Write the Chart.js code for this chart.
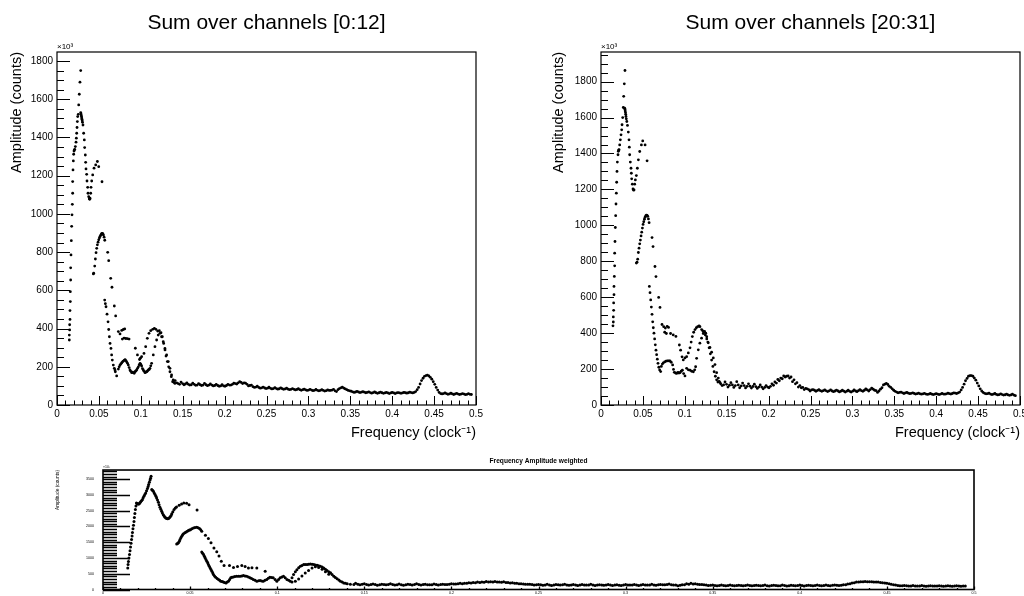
<!DOCTYPE html>
<html>
<head>
<meta charset="utf-8">
<script src="https://cdn.jsdelivr.net/npm/chart.js@4.4.1/dist/chart.umd.min.js"></script>
<style>
  html, body { margin: 0; padding: 0; background: #fff; }
  body { width: 1024px; height: 596px; position: relative; overflow: hidden; }
  canvas { position: absolute; }
  #c1 { left: 0; top: 0; }
  #c2 { left: 512px; top: 0; }
  #c3 { left: 0; top: 440px; }
</style>
</head>
<body>
<canvas id="c1" width="512" height="450"></canvas>
<canvas id="c2" width="530" height="450"></canvas>
<canvas id="c3" width="1024" height="170"></canvas>
<script>
// ---- data: [frequency, amplitude (x10^3)] ----
const freqTicks = [0, 0.05, 0.1, 0.15, 0.2, 0.25, 0.3, 0.35, 0.4, 0.45, 0.5];
const sumTicks = [0, 200, 400, 600, 800, 1000, 1200, 1400, 1600, 1800];
const weightedTicks = [0, 500, 1000, 1500, 2000, 2500, 3000, 3500];

const ch012Low = [
  [0.0147,340],[0.0147,366],[0.0151,393],[0.0151,420],[0.0155,448],[0.0155,494],[0.0159,541],[0.0159,593],[0.0163,654],[0.0163,718],
  [0.0167,785],[0.0171,860],[0.0175,935],[0.0179,995],[0.0183,1050],[0.0187,1108],[0.0187,1169],[0.0191,1230],[0.0195,1277],[0.0199,1312],
  [0.0203,1329],[0.0207,1334],[0.0211,1338],[0.0219,1352],[0.0227,1375],[0.0231,1396],[0.0235,1422],[0.0239,1452],[0.0243,1483],[0.0247,1509],
  [0.0254,1521],[0.0259,1570],[0.0266,1626],[0.0274,1689],[0.0283,1750],
  [0.0283,1530],[0.0286,1524],[0.0289,1517],[0.0292,1510],[0.0295,1502],[0.0298,1495],[0.0301,1487],[0.0304,1479],[0.0310,1465],[0.0318,1422],
  [0.0326,1387],[0.0330,1347],[0.0338,1308],[0.0342,1270],[0.0346,1235],[0.0354,1207],[0.0358,1172],[0.0366,1139],[0.0370,1108],[0.0378,1090],
  [0.0386,1079],[0.0390,1076],[0.0394,1082],[0.0402,1108],[0.0406,1139],[0.0414,1172],[0.0426,1204],[0.0442,1239],[0.0462,1256],[0.0482,1274],
  [0.0498,1247],[0.0537,1168],
  [0.0434,686],[0.0438,690],[0.0450,727],[0.0458,764],[0.0466,797],[0.0474,820],[0.0482,838],[0.0490,852],[0.0498,864],[0.0506,874],
  [0.0514,882],[0.0522,889],[0.0530,895],[0.0538,898],[0.0546,896],[0.0554,890],[0.0562,878],[0.0570,862],[0.0605,799],[0.0617,755],
  [0.0641,663],[0.0656,616],[0.0684,518],[0.0700,466],
  [0.0732,384],[0.0752,372],[0.0772,390],[0.0792,395],[0.0808,398],[0.0780,345],[0.0800,350],[0.0820,348],[0.0840,347],[0.0860,345],
  [0.0935,297],[0.0960,262],[0.0985,238],
  [0.0569,549],[0.0577,530],[0.0585,514],[0.0597,475],[0.0609,435],[0.0617,395],[0.0625,357],[0.0633,322],[0.0644,296],[0.0652,262],
  [0.0660,235],[0.0672,209],[0.0684,192],[0.0696,174],[0.0712,152],
  [0.0692,183],[0.0732,188],[0.0742,200],[0.0752,209],[0.0762,215],[0.0772,220],[0.0782,226],[0.0792,230],[0.0802,234],[0.0812,237],
  [0.0822,232],[0.0832,225],[0.0842,218],[0.0851,209],[0.0861,196],[0.0871,183],[0.0881,176],[0.0891,169],[0.0901,172],[0.0911,169],
  [0.0921,166],[0.0931,174],[0.0941,178],[0.0951,183],[0.0961,192],[0.0971,200],[0.0981,210],[0.0991,218],[0.1000,212],[0.1010,204],
  [0.1020,190],[0.1030,183],[0.1040,176],[0.1050,169],[0.1060,172],[0.1070,174],[0.1080,178],[0.1090,183],[0.1100,186],[0.1109,192],
  [0.1119,205],[0.1129,218],[0.1149,262],[0.1169,305],[0.1189,340],[0.1208,366],[0.1228,375],[0.1248,357],[0.1268,331],[0.1288,296],
  [0.1308,262],[0.1328,227],[0.1348,192],[0.1367,157],[0.1387,131],[0.1407,113],
  [0.0995,245],[0.1010,253],[0.1038,270],[0.1058,305],[0.1078,349],[0.1098,375],[0.1118,389],[0.1142,396],[0.1162,401],[0.1181,396],
  [0.1201,387],[0.1221,389],[0.1241,378],[0.1257,357],[0.1273,322],[0.1289,288],[0.1301,256],[0.1317,227],[0.1333,200],[0.1348,174],
  [0.1364,148],[0.1380,122],[0.1395,118]
];

const ch2031Low = [
  [0.0143,441],[0.0147,462],[0.0147,490],[0.0151,527],[0.0151,568],[0.0155,614],[0.0155,660],[0.0159,716],[0.0163,775],[0.0163,845],
  [0.0167,910],[0.0171,988],[0.0175,1054],[0.0179,1119],[0.0183,1179],[0.0187,1240],[0.0191,1300],[0.0195,1352],[0.0203,1393],[0.0207,1412],
  [0.0211,1418],[0.0215,1422],[0.0223,1448],[0.0231,1476],[0.0239,1504],[0.0247,1532],[0.0251,1560],[0.0259,1600],[0.0266,1656],[0.0271,1718],
  [0.0278,1788],[0.0286,1862],
  [0.0283,1652],[0.0286,1645],[0.0289,1637],[0.0292,1628],[0.0295,1618],[0.0298,1606],[0.0302,1593],[0.0308,1578],[0.0316,1556],[0.0326,1519],
  [0.0334,1476],[0.0338,1435],[0.0342,1393],[0.0350,1352],[0.0358,1318],[0.0362,1290],[0.0366,1259],[0.0374,1229],[0.0382,1203],[0.0390,1196],
  [0.0394,1198],[0.0402,1229],[0.0410,1253],[0.0422,1277],[0.0434,1318],[0.0446,1365],[0.0462,1411],[0.0482,1448],[0.0498,1470],[0.0526,1448],
  [0.0550,1359],
  [0.0422,790],[0.0430,795],[0.0438,812],[0.0446,849],[0.0454,873],[0.0462,897],[0.0470,918],[0.0478,941],[0.0486,962],[0.0494,985],
  [0.0502,1005],[0.0510,1020],[0.0518,1034],[0.0526,1045],[0.0534,1053],[0.0542,1057],[0.0550,1055],[0.0558,1050],[0.0566,1036],[0.0574,1015],
  [0.0609,932],[0.0621,882],[0.0644,771],[0.0656,715],[0.0688,599],[0.0704,543],
  [0.0577,660],[0.0585,625],[0.0593,585],[0.0601,545],[0.0609,505],[0.0617,463],[0.0624,430],[0.0632,400],[0.0640,368],[0.0648,335],
  [0.0656,305],[0.0664,280],[0.0672,255],[0.0680,232],[0.0690,210],[0.0700,195],[0.0712,186],
  [0.0728,448],[0.0748,436],[0.0768,428],[0.0790,438],[0.0806,432],[0.0760,405],[0.0780,398],[0.0830,398],[0.0862,390],[0.0894,382],
  [0.0935,334],[0.0950,305],[0.0967,268],
  [0.0720,215],[0.0732,228],[0.0744,235],[0.0760,240],[0.0776,244],[0.0792,246],[0.0808,246],[0.0823,245],[0.0838,238],[0.0855,223],
  [0.0865,198],[0.0875,182],[0.0890,178],[0.0903,176],[0.0918,182],[0.0930,178],[0.0943,180],[0.0957,188],[0.0971,194],[0.0986,175],
  [0.1002,162],
  [0.0982,251],[0.1002,262],[0.1022,269],[0.1042,290],[0.1062,318],[0.1076,350],[0.1090,381],[0.1106,405],[0.1122,420],[0.1138,430],
  [0.1154,436],[0.1170,440],[0.1181,436],[0.1201,420],[0.1215,412],[0.1229,406],[0.1245,390],[0.1262,368],[0.1280,346],[0.1300,320],
  [0.1320,294],[0.1340,262],[0.1360,225],[0.1380,180],[0.1400,150],[0.1420,125],
  [0.1022,204],[0.1042,196],[0.1062,194],[0.1082,188],[0.1102,185],[0.1118,196],[0.1129,213],[0.1141,260],[0.1161,307],[0.1180,344],
  [0.1200,372],[0.1220,398],[0.1236,410],[0.1250,400],[0.1262,380],[0.1275,350],[0.1290,318],[0.1305,285],[0.1320,250],[0.1335,215],
  [0.1350,185],[0.1365,160],[0.1380,140],[0.1395,128]
];

// high-frequency part, two interleaved sets of bins shared by both channel groups
const tailFreq = [
  0.1410,0.1445,0.1480,0.1515,0.1550,0.1585,0.1620,0.1655,0.1690,0.1725,
  0.1760,0.1795,0.1830,0.1865,0.1900,0.1935,0.1970,0.2005,0.2040,0.2075,
  0.2110,0.2145,0.2180,0.2215,0.2250,0.2285,0.2320,0.2355,0.2390,0.2425,
  0.2460,0.2495,0.2530,0.2565,0.2600,0.2635,0.2670,0.2705,0.2740,0.2775,
  0.2810,0.2845,0.2880,0.2915,0.2950,0.2985,0.3020,0.3055,0.3090,0.3125,
  0.3160,0.3195,0.3230,0.3265,0.3300,0.3335,0.3370,0.3405,0.3440,0.3475,
  0.3510,0.3545,0.3580,0.3615,0.3650,0.3685,0.3720,0.3755,0.3790,0.3825,
  0.3860,0.3895,0.3930,0.3965,0.4000,0.4035,0.4070,0.4105,0.4140,0.4175,
  0.4210,0.4245,0.4280,0.4315,0.4350,0.4385,0.4420,0.4455,0.4490,0.4525,
  0.4560,0.4595,0.4630,0.4665,0.4700,0.4735,0.4770,0.4805,0.4840,0.4875,
  0.4910,0.4945
];
const tailFreq2 = [
  0.1428,0.1463,0.1498,0.1533,0.1568,0.1603,0.1638,0.1673,0.1708,0.1743,
  0.1778,0.1813,0.1848,0.1883,0.1918,0.1953,0.1988,0.2023,0.2058,0.2093,
  0.2128,0.2163,0.2198,0.2233,0.2268,0.2303,0.2338,0.2373,0.2408,0.2443,
  0.2478,0.2513,0.2548,0.2583,0.2618,0.2653,0.2688,0.2723,0.2758,0.2793,
  0.2828,0.2863,0.2898,0.2933,0.2968,0.3003,0.3038,0.3073,0.3108,0.3143,
  0.3178,0.3213,0.3248,0.3283,0.3318,0.3353,0.3388,0.3423,0.3458,0.3493,
  0.3528,0.3563,0.3598,0.3633,0.3668,0.3703,0.3738,0.3773,0.3808,0.3843,
  0.3878,0.3913,0.3948,0.3983,0.4018,0.4053,0.4088,0.4123,0.4158,0.4193,
  0.4228,0.4263,0.4298,0.4333,0.4368,0.4403,0.4438,0.4473,0.4508,0.4543,
  0.4578,0.4613,0.4648,0.4683,0.4718,0.4753,0.4788,0.4823,0.4858,0.4893,
  0.4928
];
const ch012Tail = [
  128,112,120,106,116,104,114,103,112,102,
  113,101,110,100,108,98,106,98,108,104,
  114,110,122,112,114,100,104,92,98,88,
  94,86,93,84,91,83,90,82,88,80,
  86,79,85,77,83,76,82,75,81,74,
  80,73,79,76,82,70,86,94,84,76,
  72,66,71,65,70,64,69,62,68,61,
  67,61,66,60,66,60,65,61,66,62,
  67,63,70,92,128,150,156,145,122,92,
  66,58,63,56,62,55,61,55,60,54,
  59,55
];
const ch012Tail2 = [
  116,108,112,110,108,106,108,104,106,104,
  106,104,104,102,102,100,100,102,104,108,
  112,116,118,116,108,102,96,94,92,90,
  89,88,87,86,86,85,85,84,83,82,
  82,81,80,80,79,78,78,77,77,76,
  76,75,76,78,74,80,90,88,80,74,
  69,68,68,67,67,66,65,65,64,64,
  64,63,63,63,63,63,63,63,64,64,
  65,66,80,110,140,154,152,135,108,78,
  60,60,59,58,58,58,57,57,57,56,
  56
];
const ch2031Tail = [
  132,108,128,100,124,98,130,96,122,95,
  118,94,116,92,112,90,108,96,118,128,
  142,150,162,160,150,130,118,100,96,86,
  90,78,86,76,85,76,84,75,84,74,
  83,73,82,72,82,72,84,74,86,76,
  90,78,94,82,70,88,112,120,104,90,
  76,68,72,64,70,63,68,61,66,60,
  65,59,64,58,63,58,64,60,66,61,
  68,64,72,98,135,160,164,150,122,90,
  70,62,66,58,64,56,62,55,61,54,
  60,52
];
const ch2031Tail2 = [
  118,112,115,110,112,108,112,106,108,104,
  105,103,102,100,100,98,100,104,110,122,
  135,146,156,162,156,140,124,108,98,92,
  86,84,82,81,80,80,79,79,78,78,
  78,77,77,77,76,77,78,80,80,82,
  84,86,88,80,78,96,116,114,98,82,
  72,70,68,67,66,65,64,63,62,62,
  61,61,60,60,60,61,61,62,63,64,
  66,68,84,116,148,163,160,138,106,78,
  65,63,61,60,59,58,58,57,56,56,
  55
];

const weightedLow = [
  [0.0142,683],[0.0144,790],[0.0146,892],[0.0149,1000],[0.0152,1113],[0.0155,1230],[0.0158,1350],[0.0161,1470],[0.0164,1585],[0.0167,1700],
  [0.0169,1810],[0.0172,1925],[0.0175,2040],[0.0178,2160],[0.0180,2280],[0.0183,2410],[0.0186,2540],[0.0189,2650],[0.0192,2745],[0.0196,2725],
  [0.0200,2710],[0.0204,2712],[0.0208,2720],[0.0212,2750],[0.0216,2780],[0.0221,2815],[0.0226,2850],[0.0230,2900],[0.0235,2960],[0.0240,3010],
  [0.0245,3065],[0.0250,3130],[0.0255,3200],[0.0259,3265],[0.0262,3330],[0.0266,3400],[0.0270,3470],[0.0273,3530],[0.0276,3590],
  [0.0280,3170],[0.0284,3145],[0.0289,3115],[0.0294,3065],[0.0299,3010],[0.0304,2960],[0.0308,2905],[0.0313,2840],[0.0318,2770],[0.0322,2690],
  [0.0327,2610],[0.0332,2545],[0.0337,2480],[0.0341,2425],[0.0346,2375],[0.0351,2330],[0.0356,2290],[0.0361,2265],[0.0366,2250],[0.0371,2245],
  [0.0376,2255],[0.0381,2275],[0.0386,2310],[0.0391,2350],[0.0395,2400],[0.0401,2470],[0.0408,2535],[0.0415,2585],[0.0422,2620],[0.0437,2670],
  [0.0451,2715],[0.0464,2745],[0.0480,2735],[0.0494,2690],[0.0540,2520],
  [0.0423,1445],[0.0428,1460],[0.0433,1480],[0.0438,1530],[0.0442,1585],[0.0447,1640],[0.0452,1690],[0.0457,1735],[0.0462,1770],[0.0470,1800],
  [0.0477,1820],[0.0484,1850],[0.0490,1875],[0.0496,1888],[0.0502,1895],[0.0510,1925],[0.0519,1950],[0.0528,1965],[0.0538,1975],[0.0546,1960],
  [0.0554,1935],[0.0561,1895],[0.0567,1850],
  [0.0588,1720],[0.0605,1615],[0.0620,1480],[0.0637,1320],[0.0653,1195],[0.0666,1060],[0.0679,900],[0.0695,760],
  [0.0726,765],[0.0749,700],[0.0772,733],[0.0797,765],[0.0816,733],[0.0835,685],[0.0855,692],[0.0883,683],[0.0931,575],
  [0.0567,1190],[0.0572,1150],[0.0577,1110],[0.0582,1058],[0.0586,1005],[0.0591,952],[0.0596,900],[0.0601,845],[0.0605,790],[0.0610,738],
  [0.0615,685],[0.0620,632],[0.0625,580],[0.0630,527],[0.0634,475],[0.0640,430],[0.0647,390],[0.0655,352],[0.0663,320],[0.0670,290],
  [0.0676,265],[0.0684,250],[0.0691,240],[0.0698,225],[0.0706,210],[0.0713,235],[0.0720,265],[0.0727,320],[0.0733,370],[0.0740,388],
  [0.0748,400],[0.0757,410],[0.0767,420],[0.0777,422],[0.0787,420],[0.0797,430],[0.0806,445],[0.0815,432],[0.0825,420],[0.0835,395],
  [0.0844,370],[0.0853,345],[0.0863,320],[0.0873,290],[0.0883,265],[0.0893,275],[0.0902,285],[0.0911,270],[0.0920,265],[0.0930,290],
  [0.0940,320],[0.0949,355],[0.0958,390],[0.0968,380],[0.0977,370],[0.0988,320],[0.0998,265],[0.1008,320],[0.1017,370],[0.1027,400],
  [0.1036,420],[0.1046,370],[0.1056,320],[0.1066,290],[0.1075,265],
  [0.1085,370],[0.1094,475],[0.1104,560],[0.1113,630],[0.1123,690],[0.1133,735],[0.1142,765],[0.1152,790],[0.1161,795],[0.1171,790],
  [0.1180,800],[0.1190,810],[0.1200,800],[0.1210,790],[0.1219,780],[0.1229,770],[0.1238,755],[0.1248,735],[0.1258,710],[0.1267,685],
  [0.1277,645],[0.1286,600],[0.1296,565],[0.1306,530],[0.1315,475],[0.1325,420],[0.1334,380],[0.1344,340],[0.1354,300],[0.1363,265],
  [0.1373,235],[0.1382,210],[0.1392,195],[0.1402,180],[0.1420,170],[0.1440,160],
  [0.1085,240],[0.1104,260],[0.1123,330],[0.1142,430],[0.1161,520],[0.1180,600],[0.1200,680],[0.1219,720],[0.1238,700],[0.1258,640],
  [0.1277,560],[0.1296,480]
];
const weightedTailFreq = [
  0.1450,0.1475,0.1500,0.1525,0.1550,0.1575,0.1600,0.1625,0.1650,0.1675,
  0.1700,0.1725,0.1750,0.1775,0.1800,0.1825,0.1850,0.1875,0.1900,0.1925,
  0.1950,0.1975,0.2000,0.2025,0.2050,0.2075,0.2100,0.2125,0.2150,0.2175,
  0.2200,0.2225,0.2250,0.2275,0.2300,0.2325,0.2350,0.2375,0.2400,0.2425,
  0.2450,0.2475,0.2500,0.2525,0.2550,0.2575,0.2600,0.2625,0.2650,0.2675,
  0.2700,0.2725,0.2750,0.2775,0.2800,0.2825,0.2850,0.2875,0.2900,0.2925,
  0.2950,0.2975,0.3000,0.3025,0.3050,0.3075,0.3100,0.3125,0.3150,0.3175,
  0.3200,0.3225,0.3250,0.3275,0.3300,0.3325,0.3350,0.3375,0.3400,0.3425,
  0.3450,0.3475,0.3500,0.3525,0.3550,0.3575,0.3600,0.3625,0.3650,0.3675,
  0.3700,0.3725,0.3750,0.3775,0.3800,0.3825,0.3850,0.3875,0.3900,0.3925,
  0.3950,0.3975,0.4000,0.4025,0.4050,0.4075,0.4100,0.4125,0.4150,0.4175,
  0.4200,0.4225,0.4250,0.4275,0.4300,0.4325,0.4350,0.4375,0.4400,0.4425,
  0.4450,0.4475,0.4500,0.4525,0.4550,0.4575,0.4600,0.4625,0.4650,0.4675,
  0.4700,0.4725,0.4750,0.4775,0.4800,0.4825,0.4850,0.4875,0.4900,0.4925,
  0.4950
];
const weightedTailAmp = [
  200,150,185,140,175,135,170,150,180,140,
  175,135,170,145,180,140,165,150,175,145,
  170,160,185,175,200,195,215,220,240,235,
  250,245,255,240,245,225,215,195,180,165,
  170,140,160,135,165,130,160,140,170,135,
  160,130,155,140,165,130,150,135,160,130,
  150,125,155,140,160,130,155,145,165,135,
  160,150,175,140,120,150,185,195,180,160,
  150,125,140,120,145,115,140,120,135,115,
  140,115,135,120,140,110,135,118,140,112,
  135,115,140,112,138,115,140,118,145,120,
  145,125,150,175,210,235,245,250,245,240,
  235,215,195,165,140,120,130,110,125,108,
  125,105,122,108,120,104,118,106,120,105,
  110
];
const weightedTailFreq2 = [
  0.1463,0.1488,0.1513,0.1538,0.1563,0.1588,0.1613,0.1638,0.1663,0.1688,
  0.1713,0.1738,0.1763,0.1788,0.1813,0.1838,0.1863,0.1888,0.1913,0.1938,
  0.1963,0.1988,0.2013,0.2038,0.2063,0.2088,0.2113,0.2138,0.2163,0.2188,
  0.2213,0.2238,0.2263,0.2288,0.2313,0.2338,0.2363,0.2388,0.2413,0.2438,
  0.2463,0.2488,0.2513,0.2538,0.2563,0.2588,0.2613,0.2638,0.2663,0.2688,
  0.2713,0.2738,0.2763,0.2788,0.2813,0.2838,0.2863,0.2888,0.2913,0.2938,
  0.2963,0.2988,0.3013,0.3038,0.3063,0.3088,0.3113,0.3138,0.3163,0.3188,
  0.3213,0.3238,0.3263,0.3288,0.3313,0.3338,0.3363,0.3388,0.3413,0.3438,
  0.3463,0.3488,0.3513,0.3538,0.3563,0.3588,0.3613,0.3638,0.3663,0.3688,
  0.3713,0.3738,0.3763,0.3788,0.3813,0.3838,0.3863,0.3888,0.3913,0.3938,
  0.3963,0.3988,0.4013,0.4038,0.4063,0.4088,0.4113,0.4138,0.4163,0.4188,
  0.4213,0.4238,0.4263,0.4288,0.4313,0.4338,0.4363,0.4388,0.4413,0.4438,
  0.4463,0.4488,0.4513,0.4538,0.4563,0.4588,0.4613,0.4638,0.4663,0.4688,
  0.4713,0.4738,0.4763,0.4788,0.4813,0.4838,0.4863,0.4888,0.4913,0.4938
];
const weightedTailAmp2 = [
  170,165,160,158,155,152,158,160,155,150,
  152,150,155,158,160,155,150,152,156,158,
  162,168,172,180,186,195,205,212,222,230,
  238,240,238,232,225,210,198,186,175,165,
  155,150,148,146,145,146,148,147,146,145,
  144,143,144,145,142,140,141,142,140,139,
  138,139,140,141,142,143,142,144,146,148,
  150,155,152,145,135,150,170,175,168,155,
  140,132,130,128,127,126,128,127,126,125,
  124,125,124,123,122,124,123,122,124,122,
  123,124,125,124,126,125,127,128,130,132,
  135,138,150,185,215,235,242,246,243,238,
  225,205,180,150,128,118,115,114,113,112,
  112,111,112,110,111,110,109,110,108,108
];

Chart.defaults.font.family = '"Liberation Sans", Arial, Helvetica, sans-serif';
Chart.defaults.color = '#000';

// ROOT-like frame with inner tick marks
const rootAxes = {
  id: 'rootAxes',
  afterDatasetsDraw(chart, args, o) {
    const { ctx, chartArea: a, scales: { x, y } } = chart;
    ctx.save();
    ctx.strokeStyle = '#000';
    ctx.lineWidth = o.tickWidth;
    ctx.beginPath();
    for (let i = 0; i * o.xMinor <= x.max + 1e-9; i++) {
      const px = Math.round(x.getPixelForValue(i * o.xMinor)) + 0.5;
      const len = i % o.xEvery === 0 ? o.xMajorLen : o.xMinorLen;
      ctx.moveTo(px, a.bottom); ctx.lineTo(px, a.bottom - len);
    }
    for (let i = 0; i * o.yMinor <= y.max + 1e-9; i++) {
      const py = Math.round(y.getPixelForValue(i * o.yMinor)) + 0.5;
      const len = i % o.yEvery === 0 ? o.yMajorLen : o.yMinorLen;
      ctx.moveTo(a.left, py); ctx.lineTo(a.left + len, py);
    }
    ctx.stroke();
    ctx.lineWidth = o.frameWidth;
    ctx.strokeRect(a.left, a.top, a.right - a.left, a.bottom - a.top);
    ctx.fillStyle = '#000';
    ctx.font = o.expFont;
    ctx.textBaseline = 'bottom';
    ctx.textAlign = 'left';
    ctx.fillText('×10³', a.left, a.top - 1);
    ctx.restore();
  }
};

const fmtFreq = v => String(+v.toFixed(3));
const pts = (pairs) => pairs.map(p => ({ x: p[0], y: p[1] }));
const zipPts = (xs, ys) => xs.map((x, i) => ({ x, y: ys[i] }));
const fixedTicks = list => s => { s.ticks = list.map(value => ({ value })); };

function sumChart(id, title, data, yMax, yWidth, yTitlePad, padRight) {
  return new Chart(document.getElementById(id), {
    type: 'scatter',
    data: { datasets: [{ data, pointRadius: 1.4, pointHoverRadius: 1.4, pointBorderWidth: 0, backgroundColor: '#000' }] },
    options: {
      responsive: false, animation: false, events: [],
      layout: { padding: { left: 0, right: padRight, top: 0, bottom: 0 } },
      plugins: {
        legend: { display: false }, tooltip: { enabled: false },
        title: { display: true, text: title, fullSize: false, color: '#000', font: { size: 21, weight: 'normal' }, padding: { top: 10.4, bottom: 16.4 } },
        rootAxes: { xMinor: 0.01, xEvery: 5, xMajorLen: 9, xMinorLen: 4.5, yMinor: 50, yEvery: 4, yMajorLen: 13, yMinorLen: 7, tickWidth: 1, frameWidth: 1.2, expFont: '8px "Liberation Sans", Arial' }
      },
      scales: {
        x: {
          type: 'linear', min: 0, max: 0.5,
          grid: { display: false, drawTicks: false }, border: { display: false },
          afterBuildTicks: fixedTicks(freqTicks),
          ticks: { padding: 3, maxRotation: 0, autoSkip: false, font: { size: 10 }, color: '#000', callback: fmtFreq },
          title: { display: true, text: 'Frequency (clock⁻¹)', align: 'end', color: '#000', font: { size: 14.5 }, padding: { top: 0, bottom: 8 } },
          afterFit: s => { s.height = 45; }
        },
        y: {
          min: 0, max: yMax,
          grid: { display: false, drawTicks: false }, border: { display: false },
          afterBuildTicks: fixedTicks(sumTicks),
          ticks: { padding: 4, font: { size: 10 }, color: '#000', callback: v => String(v) },
          title: { display: true, text: 'Amplitude (counts)', align: 'end', color: '#000', font: { size: 14.5 }, padding: { top: yTitlePad, bottom: 0 } },
          afterFit: s => { s.width = yWidth; }
        }
      }
    },
    plugins: [rootAxes]
  });
}

sumChart('c1', 'Sum over channels [0:12]',
  pts(ch012Low).concat(zipPts(tailFreq, ch012Tail), zipPts(tailFreq2, ch012Tail2)), 1847, 57, 8.3, 36);
sumChart('c2', 'Sum over channels [20:31]',
  pts(ch2031Low).concat(zipPts(tailFreq, ch2031Tail), zipPts(tailFreq2, ch2031Tail2)), 1965, 89, 38, 22);

new Chart(document.getElementById('c3'), {
  type: 'scatter',
  data: { datasets: [{
    data: pts(weightedLow).concat(zipPts(weightedTailFreq, weightedTailAmp), zipPts(weightedTailFreq2, weightedTailAmp2)),
    pointRadius: 1.5, pointHoverRadius: 1.5, pointBorderWidth: 0, backgroundColor: '#000'
  }] },
  options: {
    responsive: false, animation: false, events: [],
    layout: { padding: { left: 0, right: 50, top: 0, bottom: 14 } },
    plugins: {
      legend: { display: false }, tooltip: { enabled: false },
      title: { display: true, text: 'Frequency Amplitude weighted', fullSize: false, color: '#000', font: { size: 6.6, weight: 'bold' }, padding: { top: 17, bottom: 5.1 } },
      rootAxes: { xMinor: 0.01, xEvery: 5, xMajorLen: 3, xMinorLen: 1.5, yMinor: 500 / 6, yEvery: 6, yMajorLen: 27, yMinorLen: 14, tickWidth: 1.3, frameWidth: 1.6, expFont: '3.5px "Liberation Sans", Arial' }
    },
    scales: {
      x: {
        type: 'linear', min: 0, max: 0.5,
        grid: { display: false, drawTicks: false }, border: { display: false },
        afterBuildTicks: fixedTicks(freqTicks),
        ticks: { padding: 1.3, maxRotation: 0, autoSkip: false, font: { size: 3.6 }, color: '#000', callback: fmtFreq },
        afterFit: s => { s.height = 6.5; }
      },
      y: {
        min: 0, max: 3790,
        grid: { display: false, drawTicks: false }, border: { display: false },
        afterBuildTicks: fixedTicks(weightedTicks),
        ticks: { padding: 9, font: { size: 3.6 }, color: '#000', callback: v => String(v) },
        title: { display: true, text: 'Amplitude (counts)', align: 'end', color: '#000', font: { size: 4.8 }, padding: { top: 54.6, bottom: 0 } },
        afterFit: s => { s.width = 103; }
      }
    }
  },
  plugins: [rootAxes]
});
</script>
</body>
</html>
